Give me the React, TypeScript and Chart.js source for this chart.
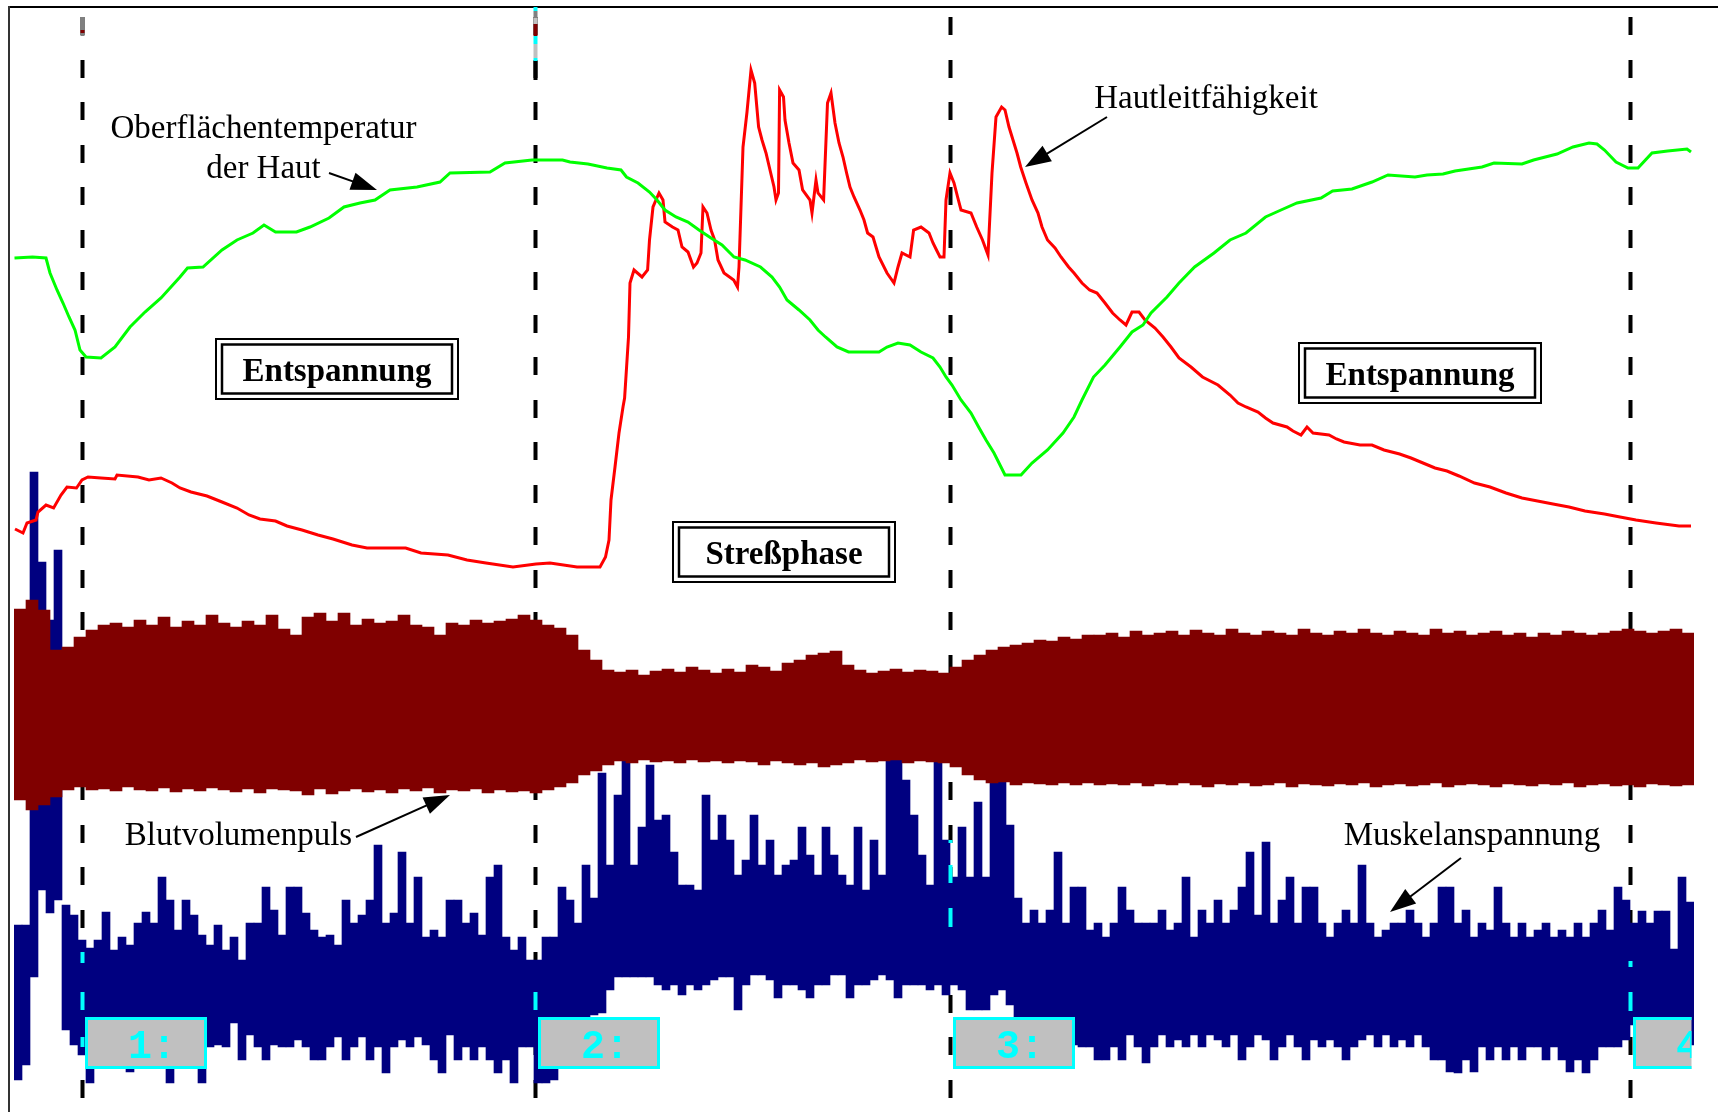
import React, { useEffect, useRef } from 'react';
import { Chart, registerables } from 'chart.js';

Chart.register(...registerables);

// ---- Oberflächentemperatur der Haut (time in s, relative units) ----
const tempTime = [0.25, 9.25, 16, 18, 21.5, 24.5, 27.5, 30.5, 33, 36,
  43.5, 50.5, 58, 65.5, 73.5, 83, 86.75, 94.5, 104, 111.5,
  119.5, 125, 130.75, 141.25, 148, 157.5, 165, 173, 180.5, 188,
  201.5, 213, 218, 238, 245.5, 259, 274.25, 278, 287, 296.5,
  303.5, 306.25, 312, 317.75, 321.5, 325.5, 331, 337, 342.5, 348.5,
  354, 360, 365.5, 373.25, 379, 382.8, 386.5, 392.5, 398, 402,
  405.75, 411.5, 417.25, 432.5, 436.5, 442, 448, 453.5, 459.5, 463,
  466, 469, 473.5, 478.5, 482.3, 486, 490, 495.5, 503.5, 509,
  516.75, 524.5, 530, 534, 539.75, 545.5, 553, 559, 564.5, 568.5,
  576.5, 582.5, 590.3, 600, 608, 616, 625.75, 633.5, 641.5, 653.5,
  659.3, 669, 679, 687, 700.5, 706.5, 714.5, 720.5, 734, 740,
  754, 759.8, 771.5, 779.5, 787.5, 791.5, 795.25, 801, 807, 812,
  819, 826.8, 836.5, 838.5];
const tempValue = [85.4, 85.5, 85.4, 83.9, 82.2, 80.9, 79.5, 78.2, 76.2, 75.5,
  75.4, 76.5, 78.5, 80.0, 81.4, 83.5, 84.4, 84.5, 86.2, 87.2,
  87.9, 88.7, 88.0, 88.0, 88.5, 89.4, 90.5, 90.9, 91.2, 92.2,
  92.5, 93.0, 93.9, 94.0, 94.9, 95.2, 95.2, 95.0, 94.8, 94.4,
  94.2, 93.5, 92.9, 92.0, 91.2, 90.2, 89.5, 89.0, 88.2, 87.4,
  86.7, 85.5, 85.2, 84.5, 83.5, 82.5, 81.2, 80.2, 79.2, 78.2,
  77.5, 76.5, 76.0, 76.0, 76.5, 76.9, 76.7, 76.0, 75.4, 74.5,
  73.5, 72.7, 71.2, 69.9, 68.5, 67.2, 65.9, 63.7, 63.7, 64.9,
  66.2, 67.9, 69.5, 71.2, 73.5, 74.7, 76.5, 78.0, 78.7, 79.9,
  81.5, 82.9, 84.5, 85.9, 87.2, 87.9, 89.5, 90.2, 90.9, 91.4,
  92.1, 92.3, 93.0, 93.7, 93.5, 93.7, 93.8, 94.1, 94.5, 94.9,
  94.8, 95.2, 95.8, 96.5, 96.9, 96.8, 96.2, 95.0, 94.4, 94.4,
  95.9, 96.1, 96.3, 96.0];

// ---- Hautleitfähigkeit ----
const condTime = [0.5, 4.5, 6.5, 11, 12, 16, 19.8, 23.5, 26.5, 31.25,
  34, 37, 43.5, 50.5, 51.5, 62, 67.5, 73.5, 79, 83,
  88.5, 96.5, 104, 111.5, 117.5, 123, 130.75, 136.5, 144, 152,
  159.5, 169, 176.5, 195.85, 203.5, 217, 226.5, 236, 249.5, 261,
  268, 281.5, 293, 295.75, 297.5, 298.5, 300.5, 302.5, 304.5, 305.3,
  307.25, 308, 310, 314, 316.8, 317.75, 319.5, 322.5, 324.5, 325.5,
  329.25, 332, 334, 337, 339.75, 341.5, 343.5, 344.5, 346.5, 348.5,
  350.3, 352, 355, 359.85, 361.75, 362.5, 364.5, 366.5, 368.5, 370.35,
  372.3, 374, 376, 378, 380, 381, 382.25, 382.8, 384.75, 385.5,
  387.5, 389.5, 392.5, 394.3, 398, 399, 401, 402, 404.8, 406.75,
  408.5, 410.5, 412.5, 414.5, 416.3, 418, 420, 423, 425, 426.8,
  429.5, 432.5, 436.5, 440, 442, 444, 448, 449.8, 453.5, 457.5,
  459.5, 461.25, 463, 465, 466, 468, 470, 471.8, 473.5, 478.5,
  481.35, 484.25, 487, 489, 491, 493.8, 495.5, 497.5, 499.5, 501.5,
  503.35, 506, 509, 512, 514, 516.75, 520.5, 523.5, 527.3, 530,
  534, 537.8, 541.5, 545.5, 549.3, 553, 556, 559, 562.5, 565.5,
  570.5, 574.5, 578.5, 582.5, 588.5, 594.25, 602, 608, 612, 616,
  622, 625.75, 629.5, 636.5, 639.5, 643.5, 646.5, 649.5, 657.5, 661.25,
  665, 673, 679, 685, 692.8, 698.5, 704.5, 710.5, 716.5, 722.5,
  730.25, 738, 746, 754, 761.75, 769.5, 777.5, 785.5, 795.25, 803,
  811, 821, 832.5, 838.5];
const condValue = [58.3, 57.9, 58.9, 59.2, 60.0, 60.7, 60.4, 61.7, 62.5, 62.4,
  63.2, 63.5, 63.4, 63.3, 63.7, 63.5, 63.2, 63.4, 62.9, 62.4,
  62.0, 61.6, 61.0, 60.4, 59.7, 59.3, 59.1, 58.6, 58.2, 57.7,
  57.3, 56.7, 56.4, 56.4, 55.9, 55.7, 55.2, 54.9, 54.5, 54.8,
  54.9, 54.5, 54.5, 55.5, 57.2, 61.2, 64.5, 67.9, 70.5, 71.4,
  77.5, 82.9, 84.2, 83.5, 84.2, 87.2, 90.5, 91.9, 91.2, 89.0,
  88.5, 88.2, 86.5, 86.0, 84.5, 84.9, 85.9, 90.5, 89.9, 88.2,
  87.2, 85.2, 83.9, 83.2, 82.5, 84.5, 96.5, 100.0, 104.2, 102.9,
  98.5, 97.2, 95.9, 94.2, 92.5, 91.2, 91.9, 102.2, 101.5, 99.2,
  96.9, 94.9, 94.2, 92.2, 91.2, 89.9, 93.2, 91.9, 91.2, 100.9,
  101.9, 98.9, 96.9, 95.5, 93.9, 92.5, 91.5, 90.2, 89.2, 87.9,
  87.5, 85.5, 83.9, 82.9, 84.5, 85.9, 85.5, 88.2, 88.5, 87.9,
  86.9, 86.2, 85.5, 85.5, 91.2, 93.9, 92.9, 91.5, 90.2, 89.9,
  88.5, 87.2, 85.7, 93.9, 99.5, 100.5, 100.2, 98.5, 97.2, 95.9,
  94.5, 92.9, 91.2, 89.9, 88.5, 87.2, 86.4, 85.5, 84.5, 83.9,
  82.9, 82.2, 81.9, 80.9, 79.9, 79.2, 78.7, 80.0, 80.0, 79.2,
  78.4, 77.5, 76.5, 75.4, 74.5, 73.5, 72.7, 71.7, 70.9, 70.5,
  70.0, 69.4, 68.9, 68.5, 68.1, 67.7, 68.5, 67.9, 67.7, 67.3,
  67.0, 66.7, 66.7, 66.2, 65.8, 65.4, 64.9, 64.4, 64.1, 63.6,
  62.9, 62.5, 61.9, 61.4, 61.1, 60.8, 60.5, 60.1, 59.8, 59.5,
  59.2, 58.9, 58.6, 58.6];

// ---- Blutvolumenpuls: envelope per 6 s window ----
const bvpHigh = [96, 105, 95, 55, 58, 68, 75, 80, 82, 78,
  85, 80, 88, 78, 84, 80, 90, 82, 78, 84,
  80, 90, 76, 70, 88, 92, 84, 92, 80, 86,
  82, 84, 90, 80, 78, 70, 82, 80, 85, 82,
  84, 86, 90, 85, 80, 77, 70, 55, 45, 35,
  33, 35, 30, 34, 36, 33, 38, 35, 32, 36,
  33, 40, 38, 34, 42, 45, 50, 52, 54, 40,
  35, 32, 34, 36, 33, 35, 34, 32, 38, 45,
  50, 55, 58, 60, 62, 65, 64, 68, 66, 70,
  70, 72, 68, 74, 70, 72, 74, 70, 75, 72,
  70, 76, 72, 70, 74, 72, 70, 76, 72, 70,
  74, 72, 76, 72, 70, 74, 72, 70, 76, 72,
  74, 70, 72, 74, 70, 72, 68, 72, 70, 74,
  72, 70, 72, 74, 76, 74, 72, 74, 76, 72];
const bvpLow = [-95, -105, -100, -92, -85, -82, -85, -84, -86, -82,
  -85, -86, -83, -87, -84, -86, -83, -85, -87, -84,
  -88, -84, -85, -86, -90, -84, -89, -86, -84, -87,
  -85, -88, -84, -86, -83, -88, -85, -86, -84, -88,
  -85, -87, -86, -88, -85, -82, -78, -70, -66, -60,
  -56, -58, -55, -57, -56, -58, -55, -57, -56, -58,
  -56, -57, -60, -56, -58, -60, -58, -62, -60, -58,
  -55, -57, -56, -55, -58, -56, -57, -58, -62, -70,
  -75, -78, -77, -80, -78, -79, -80, -78, -80, -78,
  -80, -79, -80, -78, -81, -79, -80, -78, -80, -82,
  -79, -80, -78, -81, -80, -78, -82, -79, -80, -81,
  -79, -80, -78, -82, -80, -79, -81, -80, -78, -82,
  -80, -79, -80, -82, -79, -80, -81, -79, -80, -78,
  -82, -80, -79, -81, -80, -82, -79, -80, -81, -80];

// ---- Muskelanspannung: min/max per 4 s window ----
const emgHigh = [60, 60, 513, 423, 365, 435, 80, 70, 45, 37,
  45, 73, 35, 48, 40, 62, 73, 62, 108, 85,
  55, 85, 70, 50, 40, 60, 35, 48, 25, 62,
  62, 98, 75, 50, 98, 98, 72, 55, 48, 50,
  40, 85, 62, 70, 85, 140, 62, 72, 133, 62,
  108, 48, 55, 48, 85, 85, 62, 72, 50, 108,
  120, 48, 35, 48, 25, 25, 48, 48, 98, 85,
  62, 120, 87, 212, 120, 190, 227, 120, 158, 220,
  165, 170, 133, 100, 100, 95, 190, 145, 170, 145,
  110, 125, 170, 120, 145, 110, 120, 125, 158, 130,
  110, 158, 130, 110, 100, 158, 95, 145, 110, 229,
  229, 205, 170, 130, 100, 228, 145, 108, 158, 108,
  183, 108, 215, 210, 160, 87, 62, 75, 62, 75,
  133, 62, 98, 98, 55, 62, 48, 62, 98, 75,
  62, 62, 62, 75, 55, 62, 108, 48, 75, 62,
  85, 62, 75, 98, 133, 70, 143, 62, 85, 108,
  62, 98, 98, 62, 48, 62, 75, 62, 120, 62,
  48, 55, 62, 62, 75, 62, 48, 62, 98, 98,
  62, 75, 48, 62, 55, 98, 62, 48, 62, 48,
  55, 62, 48, 55, 48, 62, 48, 62, 75, 55,
  98, 85, 62, 74, 62, 74, 74, 36, 108, 83];
const emgLow = [-95, -80, 8, 95, 72, 85, -45, -60, -70, -98,
  -70, -75, -70, -72, -87, -70, -65, -75, -70, -98,
  -68, -72, -75, -98, -62, -60, -62, -38, -75, -50,
  -62, -75, -60, -62, -62, -55, -62, -75, -75, -62,
  -52, -75, -62, -52, -75, -62, -88, -62, -55, -62,
  -52, -60, -75, -88, -50, -75, -62, -75, -62, -75,
  -88, -75, -98, -62, -62, -98, -98, -95, -40, -45,
  -40, -40, -30, -28, -5, 8, 8, 8, 8, 8,
  0, -5, 0, -10, 0, -5, 0, 5, 8, 8,
  -25, 0, 10, 10, 5, -13, 0, 0, -5, -13,
  0, 0, 10, 10, -13, 0, 0, 5, 10, 5,
  -13, 0, 0, 0, -5, 0, -10, 0, -5, -25,
  -25, -25, -10, -5, -20, -40, -45, -50, -45, -55,
  -50, -55, -60, -62, -62, -75, -75, -62, -75, -50,
  -62, -78, -62, -50, -62, -55, -62, -50, -62, -50,
  -55, -62, -50, -75, -62, -50, -55, -75, -62, -50,
  -62, -75, -55, -62, -55, -62, -75, -62, -55, -50,
  -62, -50, -62, -55, -62, -50, -62, -75, -75, -87,
  -88, -75, -87, -62, -75, -62, -75, -62, -75, -62,
  -62, -75, -62, -75, -87, -75, -88, -75, -62, -62,
  -62, -55, -40, -50, -50, -50, -50, -50, -60, -60];

// ---- phases ----
const phaseTimes = [34, 260.3, 468, 808];
const phaseLabels = ['1:', '2:', '3:', '4:'];
const phaseNames = ['Entspannung', 'Streßphase', 'Entspannung'];
const signalNames = ['Oberflächentemperatur', 'der Haut', 'Hautleitfähigkeit', 'Blutvolumenpuls', 'Muskelanspannung'];

const emgLabels = emgHigh.map((_, i) => String(i));
const bvpLabels = bvpHigh.map((_, i) => String(i));

const SERIF = '"Liberation Serif", "Times New Roman", serif';

function drawArrow(ctx: CanvasRenderingContext2D, x1: number, y1: number, x2: number, y2: number) {
  const ang = Math.atan2(y2 - y1, x2 - x1);
  const L = 26, W = 9;
  const c = Math.cos(ang), s = Math.sin(ang);
  ctx.strokeStyle = '#000';
  ctx.fillStyle = '#000';
  ctx.lineWidth = 2;
  ctx.beginPath();
  ctx.moveTo(x1, y1);
  ctx.lineTo(x2 - L * 0.7 * c, y2 - L * 0.7 * s);
  ctx.stroke();
  ctx.beginPath();
  ctx.moveTo(x2, y2);
  ctx.lineTo(x2 - L * c + W * s, y2 - L * s - W * c);
  ctx.lineTo(x2 - L * c - W * s, y2 - L * s + W * c);
  ctx.closePath();
  ctx.fill();
}

function framedBox(ctx: CanvasRenderingContext2D, x: number, y: number, w: number, h: number, text: string) {
  ctx.fillStyle = '#fff';
  ctx.fillRect(x, y, w, h);
  ctx.strokeStyle = '#000';
  ctx.lineWidth = 2;
  ctx.strokeRect(x + 1, y + 1, w - 2, h - 2);
  ctx.lineWidth = 2.5;
  ctx.strokeRect(x + 7, y + 6.5, w - 14, h - 13);
  ctx.fillStyle = '#000';
  ctx.font = 'bold 33px ' + SERIF;
  ctx.textAlign = 'center';
  ctx.textBaseline = 'alphabetic';
  ctx.fillText(text, x + w / 2, y + h / 2 + 11.5);
}

const decorPlugin = {
  id: 'decor',
  beforeDatasetsDraw(chart: any) {
    const ctx: CanvasRenderingContext2D = chart.ctx;
    const xs = chart.scales.x;
    ctx.save();
    ctx.fillStyle = '#000';
    phaseTimes.forEach((t) => {
      const px = Math.round(xs.getPixelForValue(t));
      for (let y = 17; y < 1097; y += 42.5) {
        ctx.fillRect(px - 1.5, Math.round(y), 4, 18);
      }
    });
    ctx.restore();
  },
  afterDatasetsDraw(chart: any) {
    const ctx: CanvasRenderingContext2D = chart.ctx;
    const xs = chart.scales.x;
    ctx.save();
    // frame
    ctx.fillStyle = '#000';
    ctx.fillRect(8, 6, 1710, 2);
    ctx.fillStyle = '#333';
    ctx.fillRect(8, 6, 2, 1106);

    const linePx = phaseTimes.map((t) => Math.round(xs.getPixelForValue(t)));
    // small marks at top of the first two phase lines
    ctx.fillStyle = '#808080';
    ctx.fillRect(linePx[0] - 1.5, 17, 4, 19);
    ctx.fillStyle = '#800000';
    ctx.fillRect(linePx[0] - 1.5, 30, 4, 3);
    const strip: [number, number, string][] = [
      [7, 11, '#00ffff'], [11, 18, '#808080'], [18, 24, '#c0c0c0'], [24, 36, '#800000'],
      [36, 44, '#00ffff'], [44, 58, '#c0c0c0'], [58, 61, '#00ffff'], [61, 80, '#000000'],
    ];
    strip.forEach(([a, b, c]) => { ctx.fillStyle = c; ctx.fillRect(linePx[1] - 1.5, a, 4, b - a); });
    // cyan accents where phase lines cross the EMG trace
    const accents: [number, number][][] = [
      [[952, 963], [992, 1010], [1037, 1047]],
      [[992, 1010]],
      [[840, 843], [865, 883], [908, 927]],
      [[961, 967], [992, 1011]],
    ];
    ctx.fillStyle = '#00ffff';
    accents.forEach((segs, i) => segs.forEach(([a, b]) => ctx.fillRect(linePx[i] - 1.5, a, 4, b - a)));

    // phase number boxes
    const endPx = xs.getPixelForValue(tempTime[tempTime.length - 1]) + 0.5;
    ctx.save();
    ctx.beginPath();
    ctx.rect(0, 0, endPx, chart.height);
    ctx.clip();
    linePx.forEach((px, i) => {
      const bx = px + 3, by = 1017, bw = 122, bh = 52;
      ctx.fillStyle = '#c0c0c0';
      ctx.fillRect(bx, by, bw, bh);
      ctx.strokeStyle = '#00ffff';
      ctx.lineWidth = 3;
      ctx.strokeRect(bx + 1.5, by + 1.5, bw - 3, bh - 3);
      ctx.fillStyle = '#00ffff';
      ctx.font = 'bold 40px "Liberation Mono", "DejaVu Sans Mono", monospace';
      ctx.textAlign = 'left';
      ctx.textBaseline = 'alphabetic';
      ctx.fillText(phaseLabels[i], bx + 43, 1058);
    });
    ctx.restore();

    // phase name boxes
    framedBox(ctx, 215, 338, 244, 62, phaseNames[0]);
    framedBox(ctx, 672, 521, 224, 62, phaseNames[1]);
    framedBox(ctx, 1298, 342, 244, 62, phaseNames[2]);

    // signal labels
    ctx.fillStyle = '#000';
    ctx.font = '33px ' + SERIF;
    ctx.textBaseline = 'alphabetic';
    ctx.textAlign = 'center';
    ctx.fillText(signalNames[0], 263.5, 138);
    ctx.fillText(signalNames[1], 263.5, 178);
    ctx.fillText(signalNames[2], 1206, 108);
    ctx.fillText(signalNames[3], 238.5, 845);
    ctx.fillText(signalNames[4], 1472, 845);

    drawArrow(ctx, 329, 173, 377, 190);
    drawArrow(ctx, 1107, 117, 1025, 167);
    drawArrow(ctx, 356, 837, 450, 795);
    drawArrow(ctx, 1461, 858, 1390, 912);
    ctx.restore();
  },
};

export default function App() {
  const canvasRef = useRef<HTMLCanvasElement | null>(null);

  useEffect(() => {
    const canvas = canvasRef.current;
    if (!canvas) return;
    const chart = new Chart(canvas, {
      type: 'line',
      data: {
        datasets: [
          {
            type: 'bar',
            label: 'Muskelanspannung',
            data: emgLow.map((lo, i) => [lo, emgHigh[i]]),
            xAxisID: 'xe',
            yAxisID: 'ye',
            backgroundColor: '#000080',
            borderWidth: 0,
            barPercentage: 1,
            categoryPercentage: 1,
            grouped: false,
            order: 4,
          } as any,
          {
            type: 'bar',
            label: 'Blutvolumenpuls',
            data: bvpLow.map((lo, i) => [lo, bvpHigh[i]]),
            xAxisID: 'xb',
            yAxisID: 'yb',
            backgroundColor: '#800000',
            borderWidth: 0,
            barPercentage: 1,
            categoryPercentage: 1,
            grouped: false,
            order: 3,
          } as any,
          {
            type: 'line',
            label: 'Hautleitfähigkeit',
            data: condTime.map((t, i) => ({ x: t, y: condValue[i] })),
            xAxisID: 'x',
            yAxisID: 'y',
            borderColor: '#ff0000',
            borderWidth: 3,
            pointRadius: 0,
            tension: 0,
            fill: false,
            order: 2,
          } as any,
          {
            type: 'line',
            label: 'Oberflächentemperatur der Haut',
            data: tempTime.map((t, i) => ({ x: t, y: tempValue[i] })),
            xAxisID: 'x',
            yAxisID: 'y',
            borderColor: '#00ff00',
            borderWidth: 3,
            pointRadius: 0,
            tension: 0,
            fill: false,
            order: 1,
          } as any,
        ],
      },
      options: {
        animation: false,
        responsive: false,
        maintainAspectRatio: false,
        events: [],
        layout: { padding: { left: 14, right: 24, top: 0, bottom: 0 } },
        plugins: { legend: { display: false }, tooltip: { enabled: false } },
        scales: {
          x: { type: 'linear', axis: 'x', min: 0, max: 840, offset: false, display: false },
          y: { type: 'linear', axis: 'y', min: 0, max: 111.2, display: false },
          xe: { type: 'category', axis: 'x', labels: emgLabels, offset: true, display: false },
          ye: { type: 'linear', axis: 'y', min: -127, max: 985, display: false },
          xb: { type: 'category', axis: 'x', labels: bvpLabels, offset: true, display: false },
          yb: { type: 'linear', axis: 'y', min: -407, max: 705, display: false },
        } as any,
      },
      plugins: [decorPlugin],
    });
    return () => chart.destroy();
  }, []);

  return (
    <div style={{ position: 'absolute', left: 0, top: 0, width: 1718, height: 1112, background: '#fff' }}>
      <canvas ref={canvasRef} width={1718} height={1112} style={{ display: 'block' }} />
    </div>
  );
}
